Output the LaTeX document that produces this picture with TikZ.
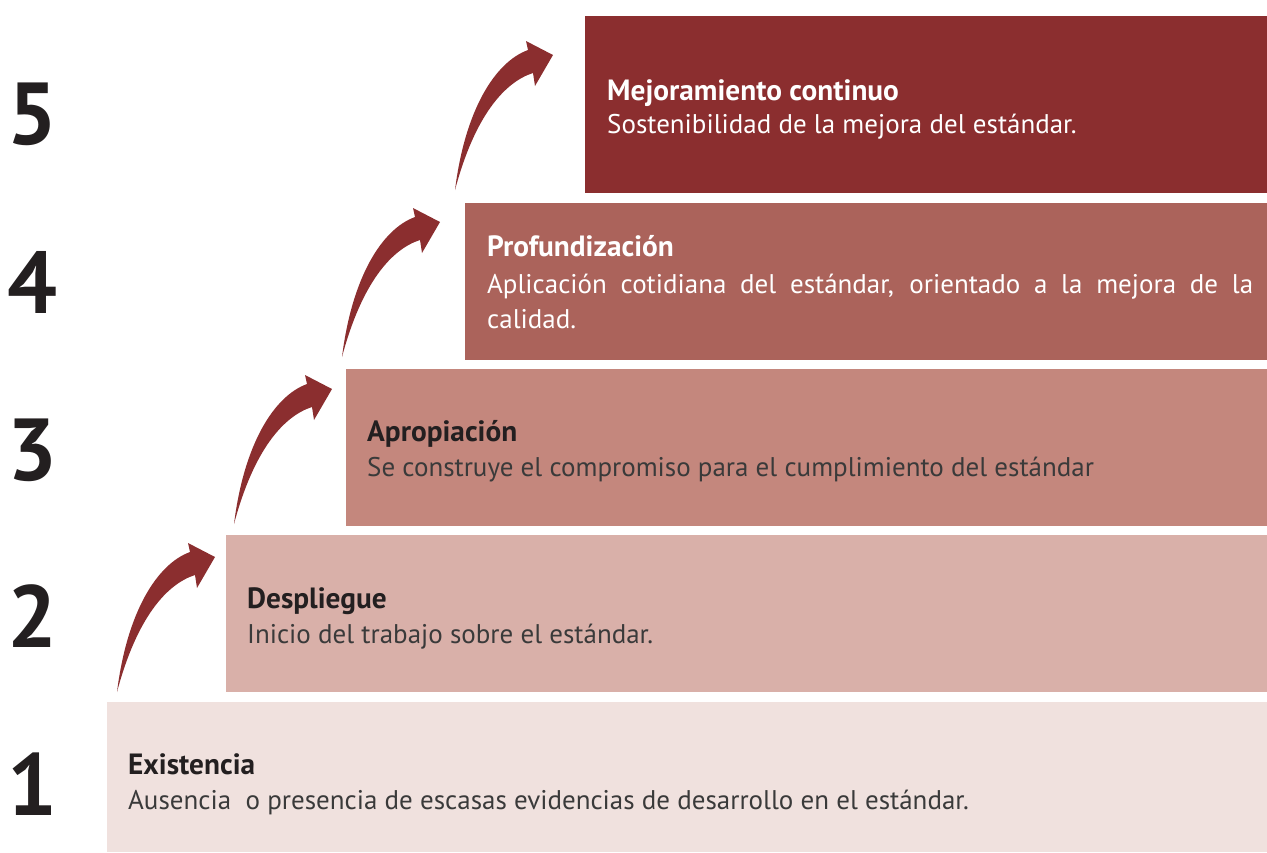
\documentclass[tikz,border=0pt]{standalone}
\usepackage{fontspec}
\setmainfont{PT Sans}
\definecolor{cA}{HTML}{F0E1DE}
\definecolor{cB}{HTML}{D9B0A9}
\definecolor{cC}{HTML}{C4877D}
\definecolor{cD}{HTML}{AB635B}
\definecolor{cE}{HTML}{8B2E2F}
\definecolor{arrowc}{HTML}{8B2E2F}
\definecolor{numc}{HTML}{231F20}
\definecolor{bodyc}{HTML}{3A3A3A}
\tikzset{
  stepbox/.style={fill=#1, draw=none},
  ttl/.style={anchor=base west, inner sep=0pt, font=\fontsize{29.3}{33}\selectfont\bfseries},
  txt/.style={anchor=base west, inner sep=0pt, font=\fontsize{27}{31}\selectfont},
  num/.style={anchor=base, inner sep=0pt, font=\fontsize{88}{96}\selectfont\bfseries, text=numc},
  uparrow/.pic={
    \fill[arrowc] (0,0) .. controls (10,-80) and (40,-128) .. (73,-140)
      -- (71,-149) -- (98,-135) -- (80,-104) -- (78,-117)
      .. controls (50,-108) and (20,-75) .. (0,0) -- cycle;
  }
}
\begin{document}
\begin{tikzpicture}[x=1pt,y=-1pt]
\useasboundingbox (0,0) rectangle (1267,852);
% boxes
\fill[stepbox=cA] (107,702) rectangle (1267,852);
\fill[stepbox=cB] (226,535) rectangle (1267,692);
\fill[stepbox=cC] (346,369) rectangle (1267,526);
\fill[stepbox=cD] (465,203) rectangle (1267,360);
\fill[stepbox=cE] (585,16) rectangle (1267,193);
% numbers
\node[num] (n1) at (32,815) {1};
\node[num] (n2) at (32,647) {2};
\node[num] (n3) at (32,480) {3};
\node[num] (n4) at (32,313) {4};
\node[num] (n5) at (32,144) {5};
% arrows
\pic at (117,692) {uparrow};
\pic at (234,524) {uparrow};
\pic at (342,357) {uparrow};
\pic at (455,190) {uparrow};
% texts
\node[ttl, text=numc] (t1) at (128,774) {Existencia};
\node[txt, text=bodyc] (d1) at (128,809) {Ausencia\ \ o presencia de escasas evidencias de desarrollo en el estándar.};
\node[ttl, text=numc] (t2) at (247,608) {Despliegue};
\node[txt, text=bodyc] (d2) at (247,643) {Inicio del trabajo sobre el estándar.};
\node[ttl, text=numc] (t3) at (367,441) {Apropiación};
\node[txt, text=bodyc] (d3) at (367,476) {Se construye el compromiso para el cumplimiento del estándar};
\node[ttl, text=white] (t4) at (487,256) {Profundización};
\node[txt, text=white] (d4a) at (487,293) {\makebox[766pt][s]{Aplicación cotidiana del estándar, orientado a la mejora de la}};
\node[txt, text=white] (d4b) at (487,328) {calidad.};
\node[ttl, text=white] (t5) at (607,100) {Mejoramiento continuo};
\node[txt, text=white] (d5) at (607,133) {Sostenibilidad de la mejora del estándar.};
\end{tikzpicture}
\end{document}
